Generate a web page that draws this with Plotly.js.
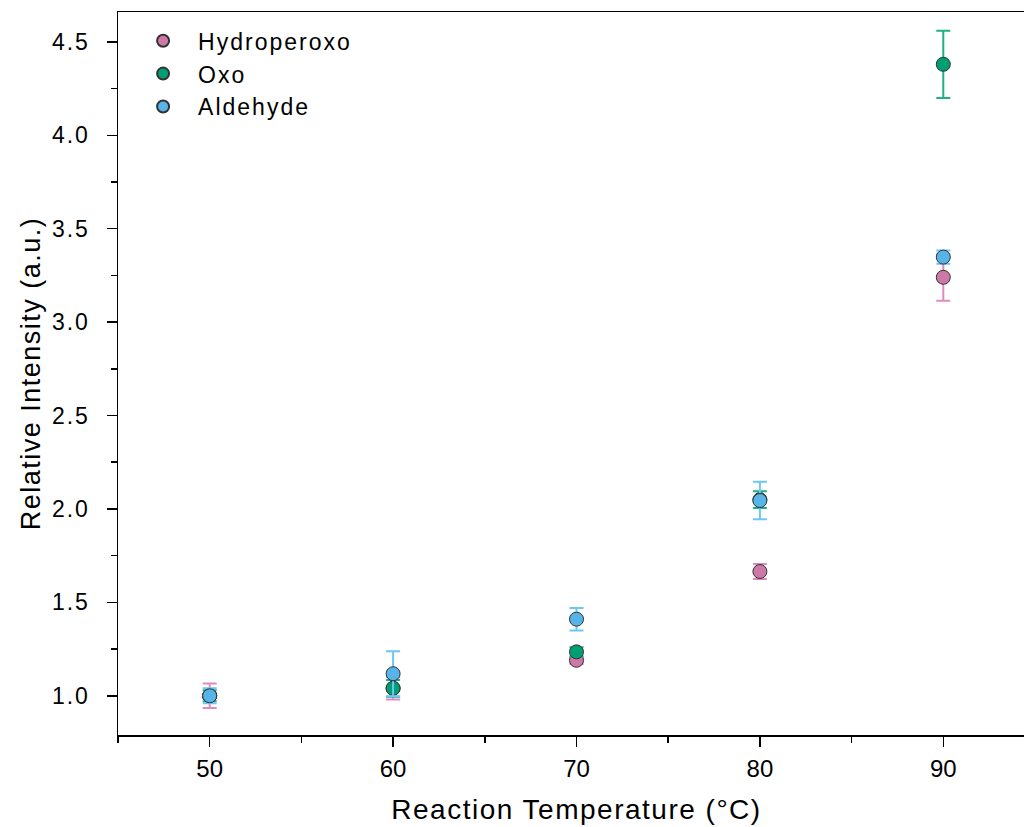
<!DOCTYPE html>
<html><head><meta charset="utf-8">
<script src="https://cdn.plot.ly/plotly-3.0.1.min.js"></script>
<style>
html,body{margin:0;padding:0;overflow:hidden;background:#fff;width:1024px;height:827px;}
.legendtext{letter-spacing:2px;}
.ytick text{letter-spacing:2px;}
.g-xtitle text{letter-spacing:1.5px;}
.g-ytitle text{letter-spacing:1.5px;}
</style>
</head><body>
<div id="chart" style="width:1040px;height:827px;"></div>
<script>
const temps = [50, 60, 70, 80, 90];
const hydroperoxo = [1.00, 1.04, 1.19, 1.665, 3.24];
const hydroperoxoErr = [0.065, 0.06, 0.02, 0.04, 0.125];
const oxo = [1.00, 1.04, 1.235, 2.05, 4.38];
const oxoErr = [0.03, 0.045, 0.025, 0.045, 0.18];
const aldehyde = [1.00, 1.118, 1.41, 2.045, 3.348];
const aldehydeErr = [0.04, 0.12, 0.06, 0.1, 0.035];
const seriesNames = ['Hydroperoxo', 'Oxo', 'Aldehyde'];
const markerColors = ['#CC79A7', '#009E73', '#56B4E9'];
const errColors = ['#E08BBF', '#21AF85', '#6CC7F2'];

const ys = [hydroperoxo, oxo, aldehyde];
const errs = [hydroperoxoErr, oxoErr, aldehydeErr];
const traces = seriesNames.map((n, i) => ({
  type: 'scatter', mode: 'markers', name: n, x: temps, y: ys[i],
  error_y: {type: 'data', array: errs[i], visible: true, color: errColors[i], thickness: 2, width: 7},
  marker: {size: 14, color: markerColors[i], line: {color: '#333333', width: 1}}
}));

const font = 'Liberation Sans, Arial, sans-serif';
const layout = {
  width: 1040, height: 827,
  margin: {l: 118, r: 5, t: 12, b: 92},
  paper_bgcolor: '#ffffff', plot_bgcolor: '#ffffff',
  showlegend: true,
  legend: {x: 0.011, y: 0.99, xanchor: 'left', yanchor: 'top', bgcolor: 'rgba(0,0,0,0)',
    itemwidth: 60,
    font: {family: font, size: 23, color: '#000'}, itemsizing: 'constant', tracegroupgap: 0},
  xaxis: {
    range: [45, 95], dtick: 10, tick0: 50, showgrid: false, zeroline: false,
    showline: true, linecolor: '#000', linewidth: 1.5, mirror: true,
    ticks: 'outside', ticklen: 10, tickwidth: 1.5, tickcolor: '#000', ticklabelstandoff: 2,
    minor: {dtick: 5, tick0: 45, ticks: 'outside', ticklen: 6, tickwidth: 1.5, tickcolor: '#000', showgrid: false},
    tickfont: {family: font, size: 24, color: '#000'},
    title: {text: 'Reaction Temperature (\u00B0C)', standoff: 18,
      font: {family: font, size: 28, color: '#000'}}
  },
  yaxis: {
    range: [0.79, 4.66], dtick: 0.5, tick0: 0, tickformat: '.1f', showgrid: false, zeroline: false,
    showline: true, linecolor: '#000', linewidth: 1.5, mirror: true,
    ticks: 'outside', ticklen: 10, tickwidth: 1.5, tickcolor: '#000', ticklabelstandoff: 12,
    minor: {dtick: 0.25, tick0: 0, ticks: 'outside', ticklen: 6, tickwidth: 1.5, tickcolor: '#000', showgrid: false},
    tickfont: {family: font, size: 23, color: '#000'},
    title: {text: 'Relative Intensity (a.u.)', standoff: 3,
      font: {family: font, size: 27, color: '#000'}}
  }
};
Plotly.newPlot('chart', traces, layout, {displayModeBar: false, staticPlot: true});
</script>
</body></html>
